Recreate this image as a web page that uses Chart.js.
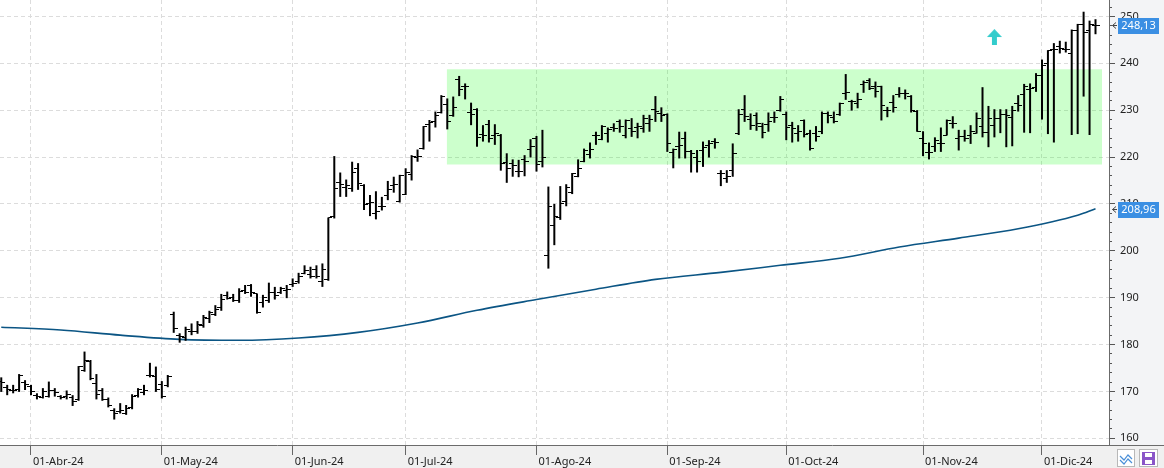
<!DOCTYPE html>
<html><head><meta charset="utf-8">
<script src="https://cdn.jsdelivr.net/npm/chart.js@4.4.1/dist/chart.umd.min.js"></script>
<style>html,body{margin:0;padding:0;background:#fff;overflow:hidden}</style>
</head><body>
<canvas id="c" width="1164" height="468"></canvas>
<script>
// ---- categories (trading days) ----
const dates = [
"2024-03-22","2024-03-25","2024-03-26","2024-03-27","2024-03-28",
"2024-04-01","2024-04-02","2024-04-03","2024-04-04","2024-04-05","2024-04-08","2024-04-09","2024-04-10","2024-04-11","2024-04-12","2024-04-15","2024-04-16","2024-04-17","2024-04-18","2024-04-19","2024-04-22","2024-04-23","2024-04-24","2024-04-25","2024-04-26","2024-04-29","2024-04-30",
"2024-05-01","2024-05-02","2024-05-03","2024-05-06","2024-05-07","2024-05-08","2024-05-09","2024-05-10","2024-05-13","2024-05-14","2024-05-15","2024-05-16","2024-05-17","2024-05-20","2024-05-21","2024-05-22","2024-05-23","2024-05-24","2024-05-28","2024-05-29","2024-05-30","2024-05-31",
"2024-06-03","2024-06-04","2024-06-05","2024-06-06","2024-06-07","2024-06-10","2024-06-11","2024-06-12","2024-06-13","2024-06-14","2024-06-17","2024-06-18","2024-06-20","2024-06-21","2024-06-24","2024-06-25","2024-06-26","2024-06-27","2024-06-28",
"2024-07-01","2024-07-02","2024-07-03","2024-07-05","2024-07-08","2024-07-09","2024-07-10","2024-07-11","2024-07-12","2024-07-15","2024-07-16","2024-07-17","2024-07-18","2024-07-19","2024-07-22","2024-07-23","2024-07-24","2024-07-25","2024-07-26","2024-07-29","2024-07-30","2024-07-31",
"2024-08-01","2024-08-02","2024-08-05","2024-08-06","2024-08-07","2024-08-08","2024-08-09","2024-08-12","2024-08-13","2024-08-14","2024-08-15","2024-08-16","2024-08-19","2024-08-20","2024-08-21","2024-08-22","2024-08-23","2024-08-26","2024-08-27","2024-08-28","2024-08-29","2024-08-30",
"2024-09-03","2024-09-04","2024-09-05","2024-09-06","2024-09-09","2024-09-10","2024-09-11","2024-09-12","2024-09-13","2024-09-16","2024-09-17","2024-09-18","2024-09-19","2024-09-20","2024-09-23","2024-09-24","2024-09-25","2024-09-26","2024-09-27","2024-09-30",
"2024-10-01","2024-10-02","2024-10-03","2024-10-04","2024-10-07","2024-10-08","2024-10-09","2024-10-10","2024-10-11","2024-10-14","2024-10-15","2024-10-16","2024-10-17","2024-10-18","2024-10-21","2024-10-22","2024-10-23","2024-10-24","2024-10-25","2024-10-28","2024-10-29","2024-10-30","2024-10-31",
"2024-11-01","2024-11-04","2024-11-05","2024-11-06","2024-11-07","2024-11-08","2024-11-11","2024-11-12","2024-11-13","2024-11-14","2024-11-15","2024-11-18","2024-11-19","2024-11-20","2024-11-21","2024-11-22","2024-11-25","2024-11-26","2024-11-27","2024-11-29",
"2024-12-02","2024-12-03","2024-12-04","2024-12-05","2024-12-06","2024-12-09","2024-12-10","2024-12-11","2024-12-12","2024-12-13"
];
// ---- OHLC series ----
const openP = [
172.1,170.8,170.2,170.4,171.9,171.0,169.2,168.7,168.9,170.2,
169.0,168.9,168.7,168.2,174.4,176.3,171.7,170.3,168.3,166.0,
165.7,165.3,166.6,169.2,169.7,173.5,173.1,171.5,171.2,186.5,
182.0,181.5,182.8,182.8,184.0,185.6,186.5,188.0,190.5,190.0,
189.5,191.5,192.5,190.8,189.0,189.5,191.0,191.0,191.5,192.8,
193.5,195.2,195.0,196.0,193.4,193.8,207.4,214.5,213.5,213.3,
217.6,214.0,210.0,208.0,209.4,211.7,214.0,210.5,212.0,216.2,
219.9,221.9,227.0,227.5,229.5,231.3,228.8,236.6,235.0,229.5,
230.2,224.8,227.0,224.5,224.5,218.8,218.7,216.9,219.4,221.6,
224.0,219.0,199.1,205.5,207.0,210.5,212.5,215.8,219.0,220.6,
224.5,223.8,225.0,226.2,227.5,224.7,226.0,226.3,226.1,227.2,
230.2,229.3,229.0,221.0,222.3,224.0,221.2,220.0,221.5,222.5,
223.4,216.5,215.5,217.2,225.0,230.2,228.0,228.8,226.5,227.0,
228.5,230.0,229.0,226.8,225.0,227.7,225.0,225.0,225.4,229.2,
228.5,229.0,233.6,231.8,231.5,235.5,236.4,235.0,235.0,230.0,
231.6,233.4,233.6,233.0,229.7,224.0,220.9,222.2,222.8,224.7,
227.1,224.0,224.4,224.5,225.1,226.5,225.2,226.8,228.2,229.0,
228.5,231.5,233.4,234.4,234.9,237.5,240.0,243.0,243.5,243.0,
242.0,247.0,248.2,247.0,248.0];
const highP = [
173.0,171.4,171.4,173.7,172.4,171.4,169.6,170.7,172.1,170.7,
169.2,170.2,169.2,175.4,178.5,176.7,173.7,170.7,168.7,166.4,
167.5,167.1,169.4,170.7,171.4,176.1,175.3,172.2,173.5,187.0,
182.4,183.8,184.5,185.0,186.3,187.2,188.4,190.8,191.3,190.8,
192.0,192.7,192.9,190.9,190.6,193.2,192.3,192.3,192.7,194.1,
195.3,196.9,196.6,196.9,197.3,207.1,220.2,216.7,215.2,219.0,
218.7,214.2,211.9,212.7,211.5,214.9,215.8,216.2,217.6,220.4,
221.6,226.6,227.9,229.7,233.2,232.5,232.9,237.3,235.7,231.6,
230.4,226.8,227.9,227.0,224.9,220.8,219.5,219.4,220.4,223.8,
224.5,225.8,213.7,210.0,213.8,214.2,216.6,219.5,221.8,223.1,
225.4,226.8,226.3,227.2,228.0,228.0,228.3,227.3,229.0,229.0,
233.0,230.6,229.3,221.8,225.4,225.4,221.5,221.5,223.3,223.6,
224.0,217.2,217.2,222.9,230.2,233.2,229.3,229.5,227.3,229.5,
229.7,233.0,229.7,227.5,226.8,228.0,225.8,226.6,229.7,229.7,
229.7,231.6,237.7,232.2,233.7,236.3,236.8,236.1,235.2,230.7,
233.2,234.9,234.4,233.2,230.0,225.5,223.1,224.2,226.3,228.0,
228.7,225.8,225.8,226.8,229.5,234.9,230.9,230.2,230.2,230.2,
230.9,233.2,235.6,235.7,237.9,240.8,242.8,244.3,244.8,244.6,
247.2,248.4,251.0,249.1,249.4];
const lowP = [
169.9,169.2,169.6,169.9,170.3,169.2,168.3,168.5,168.7,168.9,
168.3,168.3,166.9,168.0,174.2,172.4,168.3,168.0,166.6,164.0,
165.3,165.0,166.2,168.7,169.2,173.0,169.9,168.5,170.9,182.5,
180.4,180.8,182.0,182.3,183.6,184.6,186.1,187.2,189.6,189.1,
188.9,190.8,190.2,186.6,187.9,188.9,189.6,190.8,189.9,192.3,
193.0,195.0,194.1,194.1,192.3,193.6,206.9,211.5,211.5,212.6,
213.0,208.7,207.4,206.7,208.6,210.8,212.4,210.3,211.9,215.0,
219.0,221.6,223.3,226.3,229.3,225.9,228.6,233.0,232.3,226.8,
222.2,223.3,223.1,222.6,217.1,214.5,215.8,215.7,215.9,219.9,
216.9,217.8,196.2,201.2,206.6,209.5,212.1,215.7,218.9,219.7,
222.6,223.6,223.1,225.4,225.2,224.0,224.3,224.0,225.2,225.4,
227.5,227.5,221.1,217.6,219.7,219.7,216.7,216.7,217.9,219.9,
221.8,213.8,214.5,215.8,224.7,227.5,225.8,225.6,224.0,225.4,
227.3,229.7,223.6,223.1,223.3,224.2,221.4,223.3,224.9,227.2,
227.2,228.8,232.2,229.9,230.4,233.7,234.3,232.7,227.8,228.5,
229.5,232.7,232.3,229.5,225.4,220.2,219.5,221.1,221.1,224.6,
226.1,221.4,223.3,222.8,225.0,224.2,222.1,224.2,225.1,222.1,
222.3,229.7,225.2,225.1,233.9,228.0,224.9,223.1,242.1,242.3,
224.7,224.9,232.9,224.7,246.2];
const closeP = [
171.9,170.4,170.3,173.3,171.4,169.9,168.9,169.9,170.3,169.7,
168.7,169.4,167.8,175.3,176.7,172.8,169.4,168.3,166.9,165.3,
166.0,166.4,168.9,170.4,170.2,173.3,170.4,169.0,173.1,183.5,
181.7,183.3,182.8,184.3,185.8,186.8,187.5,189.6,189.9,189.5,
191.3,191.0,191.0,186.8,190.0,191.0,190.5,192.0,191.8,193.0,
194.5,195.8,194.6,194.5,196.0,207.0,213.3,214.2,214.0,216.7,
214.4,209.8,210.3,208.4,209.4,213.1,214.2,216.0,216.7,220.2,
220.2,226.5,227.3,228.8,233.0,227.5,230.6,234.4,235.0,229.0,
224.2,224.5,224.0,225.0,218.7,217.6,218.1,217.0,219.0,222.2,
218.5,219.9,209.4,207.3,210.0,213.4,216.5,217.6,221.4,221.6,
224.7,226.5,225.9,226.0,226.5,227.8,225.4,226.5,228.2,228.0,
229.7,228.8,222.8,221.6,222.5,221.1,220.8,219.0,222.0,222.8,
223.2,216.4,215.8,220.8,229.0,228.6,226.8,227.2,225.2,227.5,
228.5,232.3,226.3,226.1,225.4,224.8,221.9,224.3,229.3,228.9,
227.6,231.4,233.7,231.8,232.3,235.9,234.7,234.0,230.9,230.0,
230.5,233.6,233.6,230.0,225.5,222.9,221.0,223.6,222.8,227.9,
227.2,224.3,224.0,225.4,228.2,225.2,228.2,228.3,229.0,228.8,
229.9,231.0,235.1,234.6,237.5,239.6,242.7,243.0,243.2,243.0,
246.9,248.2,246.5,248.2,248.13];
// ---- moving average (read at sampled bars) ----
const maDates = ["2024-03-22","2024-04-08","2024-04-22","2024-05-06","2024-05-20","2024-06-04","2024-06-18","2024-07-03","2024-07-18","2024-08-01","2024-08-15","2024-08-29","2024-09-16","2024-09-30","2024-10-14","2024-10-28","2024-11-11","2024-11-25","2024-12-10","2024-12-13"];
const maValues = [183.7,183.1,182.0,181.1,180.9,181.4,182.6,184.6,187.3,189.6,191.8,193.9,195.4,196.9,198.4,200.8,202.7,204.7,207.6,208.96];
// ---- tick labels ----
const tickMonths = ["2024-04","2024-05","2024-06","2024-07","2024-08","2024-09","2024-10","2024-11","2024-12"];
const tickLabels = ["01-Abr-24","01-May-24","01-Jun-24","01-Jul-24","01-Ago-24","01-Sep-24","01-Oct-24","01-Nov-24","01-Dic-24"];
// ---- annotations ----
const zoneValues = [218.4, 238.75];
const zoneFrom = 74.9, zoneTo = 185.1;   // in bar-index units
const signalDate = "2024-11-19", signalValue = 245.6;

const FONT = "'Noto Sans', 'DejaVu Sans', sans-serif";
const idxOf = d => dates.indexOf(d);
const tickIdx = tickMonths.map(m => dates.findIndex(d => d.startsWith(m)));

function tickImg(left){
  const c=document.createElement('canvas'); c.width=8; c.height=1;
  const g=c.getContext('2d'); g.fillStyle='#000'; g.fillRect(left?0:4,0,4,1); return c;
}
function arrowImg(){
  const c=document.createElement('canvas'); c.width=15; c.height=16;
  const g=c.getContext('2d'); g.fillStyle='#33cccc';
  g.beginPath(); g.moveTo(7.5,0); g.lineTo(15,8); g.lineTo(10,8); g.lineTo(10,16); g.lineTo(5,16); g.lineTo(5,8); g.lineTo(0,8); g.closePath(); g.fill();
  return c;
}
const noPad = s => { s.paddingTop=0; s.paddingBottom=0; s.paddingLeft=0; s.paddingRight=0; };

const bgPlugin = {
  id:'bg',
  beforeDraw(chart){
    const ctx=chart.ctx, a=chart.chartArea;
    ctx.save();
    ctx.fillStyle='#ffffff'; ctx.fillRect(0,0,1164,468);
    ctx.fillStyle='#f3f4f6'; ctx.fillRect(a.right,0,1164-a.right,a.bottom);
    ctx.fillStyle='#f0f0f0'; ctx.fillRect(0,a.bottom,1164,468-a.bottom);
    ctx.restore();
  },
  afterDraw(chart){
    const ctx=chart.ctx, a=chart.chartArea, ys=chart.scales.y;
    ctx.save();
    ctx.strokeStyle='#6b6b6b'; ctx.lineWidth=1;
    ctx.beginPath(); ctx.moveTo(a.right,a.bottom+0.5); ctx.lineTo(1164,a.bottom+0.5); ctx.stroke();
    const tags=[closeP[closeP.length-1], maValues[maValues.length-1]];
    tags.forEach(v=>{
      const y=Math.round(ys.getPixelForValue(v));
      ctx.fillStyle='#3b8fe3'; ctx.fillRect(a.right+9,y-7,41,16);
      ctx.fillStyle='#ffffff'; ctx.font='11px '+FONT; ctx.textAlign='center'; ctx.textBaseline='middle';
      ctx.fillText(v.toFixed(2).replace('.',','), a.right+29.5, y+1);
      ctx.strokeStyle='#444'; ctx.beginPath();
      ctx.moveTo(a.right+7,y-2.5); ctx.lineTo(a.right+3.5,y+0.5); ctx.lineTo(a.right+7,y+3.5);
      ctx.moveTo(a.right+3.5,y+0.5); ctx.lineTo(a.right+8,y+0.5); ctx.stroke();
    });
    // small toolbar buttons
    ctx.fillStyle='#ffffff'; ctx.strokeStyle='#b8b8b8';
    ctx.fillRect(1117,449,18,18); ctx.strokeRect(1117.5,449.5,17,17);
    ctx.fillRect(1139,449,19,18); ctx.strokeRect(1139.5,449.5,18,17);
    ctx.strokeStyle='#4a8fd8'; ctx.lineWidth=1.2; ctx.beginPath();
    ctx.moveTo(1120,456); ctx.lineTo(1124,460); ctx.lineTo(1128,455); ctx.lineTo(1132,459);
    ctx.moveTo(1120,460); ctx.lineTo(1124,464); ctx.lineTo(1128,459); ctx.lineTo(1132,463); ctx.stroke();
    ctx.fillStyle='#8a55c8'; ctx.fillRect(1142,452,13,13);
    ctx.fillStyle='#ffffff'; ctx.fillRect(1145,453,7,4); ctx.fillRect(1145,460,7,4);
    ctx.restore();
  }
};

const gridCol='#dcdcdc';
new Chart(document.getElementById('c'), {
  type:'bar',
  data:{datasets:[
    {type:'line', data:[{x:zoneFrom,y:zoneValues[1]},{x:zoneTo,y:zoneValues[1]}], borderColor:'rgba(0,0,0,0)', borderWidth:0, pointRadius:0, fill:false, order:10, xAxisID:'x', yAxisID:'y'},
    {type:'line', data:[{x:zoneFrom,y:zoneValues[0]},{x:zoneTo,y:zoneValues[0]}], borderColor:'rgba(0,0,0,0)', borderWidth:0, pointRadius:0, fill:'-1', backgroundColor:'rgba(0,255,0,0.2)', order:10, xAxisID:'x', yAxisID:'y'},
    {type:'line', data:maDates.map((d,k)=>({x:idxOf(d), y:maValues[k]})), borderColor:'#0b5584', borderWidth:1.6, pointRadius:0, cubicInterpolationMode:'monotone', fill:false, order:5, xAxisID:'x', yAxisID:'y'},
    {type:'bar', data:dates.map((d,i)=>({x:i, y:[lowP[i], highP[i]]})), backgroundColor:'#000', barThickness:2, inflateAmount:0, order:3, xAxisID:'x', yAxisID:'y'},
    {type:'scatter', data:dates.map((d,i)=>({x:i, y:openP[i]})), pointStyle:tickImg(true), pointRadius:3, order:2, xAxisID:'x', yAxisID:'y'},
    {type:'scatter', data:dates.map((d,i)=>({x:i, y:closeP[i]})), pointStyle:tickImg(false), pointRadius:3, order:2, xAxisID:'x', yAxisID:'y'},
    {type:'scatter', data:[{x:idxOf(signalDate), y:signalValue}], pointStyle:arrowImg(), pointRadius:8, order:0, xAxisID:'x', yAxisID:'y'}
  ]},
  options:{
    responsive:false, animation:false, events:[],
    layout:{padding:0, autoPadding:false},
    plugins:{legend:{display:false}, tooltip:{enabled:false}},
    scales:{
      x:{type:'linear', position:'bottom', min:-0.212, max:186.27, offset:false,
        afterBuildTicks:s=>{s.ticks=tickIdx.map(v=>({value:v}));},
        afterFit:s=>{s.height=23; noPad(s);},
        ticks:{callback:(v,i)=>tickLabels[i], align:'start', autoSkip:false, maxRotation:0, minRotation:0, padding:0, labelOffset:2, color:'#222', font:{family:FONT,size:11}},
        grid:{color:gridCol, lineWidth:1, offset:false, tickLength:10, tickColor:'#666', tickBorderDash:[], tickWidth:1},
        border:{color:'#6b6b6b', width:1, dash:[4,3]}
      },
      ym:{type:'linear', position:'right', weight:0, min:158.57, max:253.5,
        afterFit:s=>{s.width=0; noPad(s);},
        ticks:{stepSize:2, includeBounds:false, display:false},
        grid:{drawOnChartArea:false, tickLength:3, tickColor:'#555'},
        border:{display:false}
      },
      y:{type:'linear', position:'right', weight:1, min:158.57, max:253.5,
        afterFit:s=>{s.width=55; noPad(s);},
        ticks:{stepSize:10, includeBounds:false, padding:5, color:'#222', font:{family:FONT,size:11}},
        grid:{color:gridCol, lineWidth:1, tickLength:6, tickColor:'#555', tickBorderDash:[]},
        border:{color:'#6b6b6b', width:1, dash:[4,3]}
      }
    }
  },
  plugins:[bgPlugin]
});
</script>
</body></html>
